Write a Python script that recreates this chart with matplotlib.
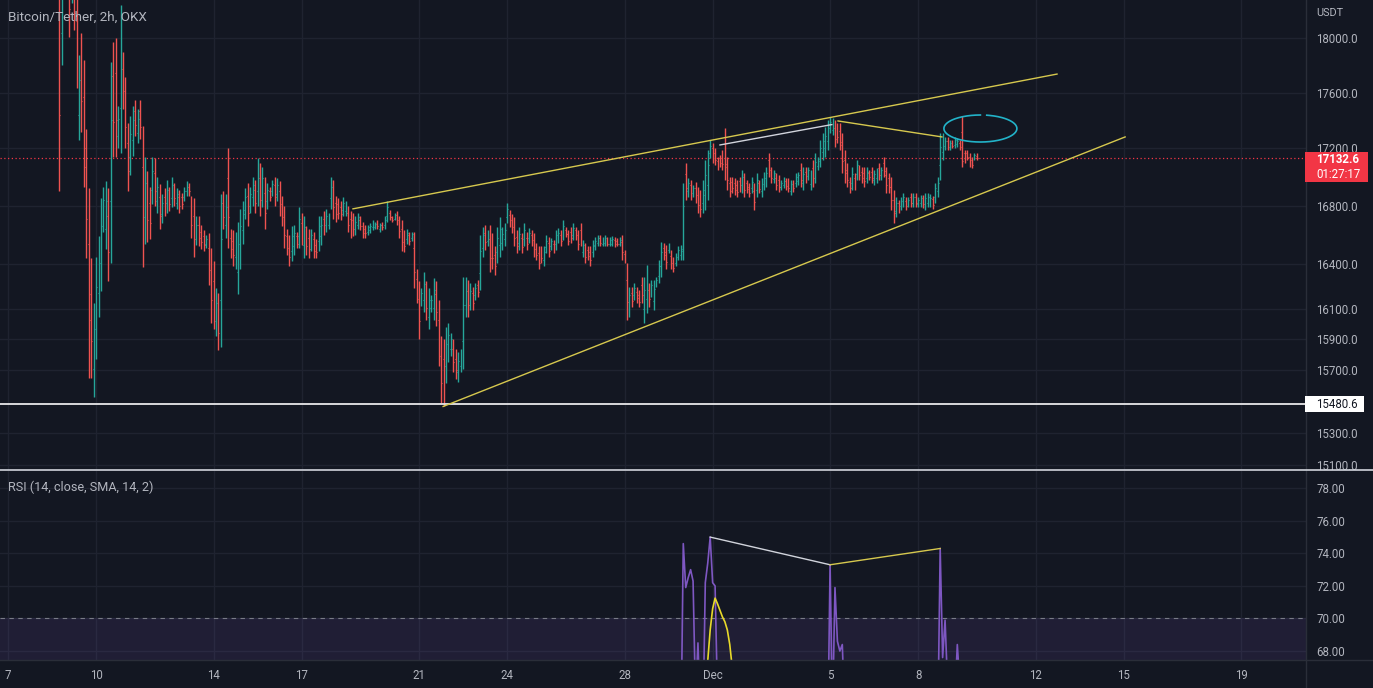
import numpy as np
import matplotlib
matplotlib.use("Agg")
import matplotlib.pyplot as plt
from matplotlib.patches import Rectangle
from matplotlib.lines import Line2D
from matplotlib.ticker import NullLocator, NullFormatter

plt.rcParams['font.family'] = ['Roboto', 'DejaVu Sans']

# ---------------- data ----------------
title = "Bitcoin/Tether, 2h, OKX"
currency = "USDT"
rsi_title = "RSI (14, close, SMA, 14, 2)"
first_bar_day = 1.75          # days since Nov 7 00:00 (first bar: Nov 8 18:00)
bar_hours = 2

opens = [
    18160, 18040, 18550, 18720, 18490, 18360, 18370, 18130, 17440, 17820,
    17570, 17070, 16540, 16200, 15710, 15970, 16210, 16410, 16710, 16640,
    16730, 16830, 17720, 17740, 17290, 17490, 17770, 17560, 17240, 17140,
    17260, 17470, 17310, 17470, 17070, 16720, 16890, 16820, 16910, 17030,
    16830, 16860, 16740, 16860, 16820, 16880, 16850, 16910, 16820, 16860,
    16860, 16860, 16900, 16930, 16780, 16730, 16590, 16670, 16620, 16590,
    16540, 16510, 16360, 16290, 16020, 16100, 16160, 16820, 16670, 16990,
    16580, 16560, 16450, 16350, 16490, 16630, 16770, 16870, 16800, 16860,
    16910, 16900, 16990, 16870, 16890, 16830, 16900, 16900, 16940, 16880,
    16900, 16810, 16710, 16590, 16540, 16490, 16520, 16590, 16590, 16680,
    16530, 16600, 16580, 16530, 16570, 16530, 16560, 16590, 16710, 16670,
    16670, 16850, 16900, 16820, 16810, 16790, 16770, 16760, 16750, 16710,
    16700, 16640, 16670, 16700, 16660, 16640, 16620, 16630, 16650, 16655,
    16680, 16640, 16670, 16665, 16730, 16750, 16720, 16710, 16735, 16690,
    16640, 16590, 16570, 16595, 16575, 16510, 16300, 16170, 16155, 16160,
    16210, 16050, 16110, 16110, 16200, 16030, 15790, 15770,
    15730, 15830, 15840, 15840, 15775, 15685, 15730, 15890, 16130, 16220,
    16150, 16205, 16195, 16260, 16340, 16510, 16615, 16555, 16570, 16540,
    16465, 16485, 16530, 16545, 16570, 16720, 16735, 16700, 16665, 16585,
    16545, 16575, 16570, 16580, 16575, 16600, 16565, 16510, 16475, 16485,
    16425, 16515, 16545, 16520, 16540, 16535, 16575, 16600, 16605, 16635,
    16605, 16620, 16600, 16630, 16595, 16630, 16485, 16505, 16495, 16480,
    16485, 16520, 16545, 16575, 16540, 16545, 16565, 16540, 16540, 16565,
    16560, 16540, 16550, 16470, 16295, 16110, 16210, 16195, 16215, 16195,
    16260, 16100, 16170, 16225, 16215, 16155, 16270, 16320, 16385, 16510,
    16480, 16495, 16455, 16420, 16410, 16455, 16460, 16490,
    17020, 16900, 16940, 16885, 16920, 16875, 16855, 16820, 16875, 16945,
    17170, 17200, 17170, 17115, 17130, 17150, 17235, 17070, 16960, 16965,
    16960, 16945, 16970, 16940, 16980, 16955, 16930, 16925, 16905, 16910,
    16955, 16900, 16950, 16970, 17120, 17035, 16985, 16995, 16980, 16930,
    16945, 16970, 16965, 16905, 16955, 16960, 16970, 17050, 16960, 17035,
    17005, 16950, 17065, 17020, 17075, 17125, 17175, 17205, 17255, 17345,
    17330, 17345, 17340, 17325, 17225, 17120, 17050, 16965, 16960, 16995,
    17020, 17055, 17035, 17030, 16995, 17030, 17035, 16975, 16990, 17065,
    17005, 17100, 17015, 16990, 16930, 16840, 16760, 16815, 16795, 16820,
    16835, 16810, 16860, 16820, 16860, 16810, 16815, 16850, 16805, 16820,
    16815, 16845, 16860, 16900, 17080, 17175, 17215, 17255, 17210, 17245,
    17225, 17230, 17240, 17320, 17165, 17170, 17140, 17120, 17130, 17150,
]
highs = [
    18700, 18600, 19000, 18900, 18700, 18600, 18500, 18350, 17875, 18040,
    17840, 17340, 16920, 16440, 16140, 16450, 16590, 16850, 16930, 16970,
    16920, 17820, 17970, 18000, 17500, 18250, 17900, 17710, 17380, 17430,
    17500, 17550, 17480, 17550, 17360, 17140, 17040, 16930, 17140, 17130,
    17000, 16950, 16880, 16920, 16980, 16930, 17000, 16960, 16920, 16910,
    16890, 16930, 16970, 16960, 16870, 16850, 16730, 16730, 16670, 16630,
    16600, 16610, 16510, 16420, 16240, 16210, 16880, 16900, 16880, 17200,
    16640, 16630, 16620, 16690, 16780, 16830, 16920, 16960, 16930, 17000,
    16980, 17130, 17100, 17070, 17000, 16960, 16930, 16980, 17000, 16990,
    16970, 16870, 16800, 16640, 16600, 16660, 16670, 16620, 16790, 16750,
    16730, 16660, 16640, 16640, 16620, 16570, 16730, 16730, 16760, 16780,
    16750, 17000, 16980, 16870, 16850, 16830, 16860, 16830, 16800, 16760,
    16750, 16730, 16750, 16730, 16690, 16670, 16670, 16680, 16700, 16690,
    16700, 16680, 16690, 16730, 16830, 16770, 16730, 16750, 16760, 16730,
    16700, 16630, 16640, 16620, 16620, 16620, 16370, 16290, 16240, 16350,
    16290, 16240, 16190, 16310, 16290, 16160, 15920, 15900,
    15980, 16010, 15945, 15900, 15835, 15820, 15835, 16315, 16315, 16295,
    16275, 16250, 16275, 16295, 16600, 16655, 16670, 16635, 16670, 16615,
    16520, 16655, 16725, 16655, 16680, 16820, 16770, 16740, 16725, 16635,
    16655, 16615, 16680, 16620, 16645, 16635, 16615, 16545, 16520, 16520,
    16520, 16600, 16585, 16580, 16565, 16635, 16645, 16635, 16700, 16655,
    16635, 16655, 16680, 16655, 16635, 16680, 16565, 16545, 16520, 16520,
    16565, 16585, 16600, 16600, 16585, 16600, 16585, 16585, 16590, 16585,
    16580, 16585, 16600, 16495, 16410, 16250, 16250, 16275, 16250, 16230,
    16315, 16315, 16395, 16275, 16295, 16295, 16315, 16430, 16550, 16545,
    16530, 16545, 16495, 16450, 16475, 16520, 16530, 16960,
    17100, 16995, 16980, 16945, 16965, 16930, 16910, 16980, 17120, 17190,
    17260, 17240, 17205, 17140, 17155, 17190, 17345, 17140, 17000, 17000,
    16995, 16980, 17000, 17050, 17030, 16980, 16960, 17000, 16960, 17030,
    16980, 16995, 17035, 17070, 17170, 17070, 17050, 17030, 17015, 16980,
    17000, 16995, 16995, 16980, 16980, 17030, 17035, 17100, 17070, 17070,
    17070, 17050, 17120, 17170, 17140, 17260, 17310, 17355, 17405, 17425,
    17420, 17405, 17380, 17380, 17310, 17190, 17100, 17000, 17070, 17030,
    17120, 17085, 17070, 17070, 17070, 17050, 17070, 17050, 17065, 17100,
    17070, 17140, 17070, 17030, 17000, 16910, 16860, 16840, 16860, 16890,
    16860, 16860, 16890, 16890, 16890, 16860, 16875, 16875, 16890, 16890,
    16880, 16870, 16960, 17000, 17310, 17310, 17280, 17280, 17260, 17260,
    17280, 17275, 17260, 17430, 17190, 17190, 17170, 17140, 17170, 17165,
]
lows = [
    16900, 17800, 18350, 18300, 18010, 18260, 18060, 17630, 17260, 17320,
    16930, 16440, 15650, 15650, 15530, 15770, 16050, 16220, 16620, 16500,
    16290, 16410, 17140, 17140, 17200, 17170, 17480, 17200, 16900, 17010,
    17150, 17290, 17240, 17270, 16380, 16540, 16550, 16570, 16810, 16800,
    16750, 16640, 16680, 16730, 16750, 16760, 16790, 16800, 16780, 16750,
    16780, 16830, 16870, 16870, 16580, 16450, 16530, 16520, 16500, 16490,
    16510, 16260, 16010, 15970, 15920, 15830, 15850, 16640, 16580, 16510,
    16440, 16390, 16370, 16200, 16370, 16540, 16710, 16660, 16750, 16800,
    16750, 16800, 16730, 16790, 16640, 16780, 16830, 16870, 16800, 16830,
    16730, 16660, 16510, 16460, 16390, 16420, 16460, 16510, 16510, 16530,
    16440, 16460, 16440, 16490, 16440, 16440, 16490, 16530, 16600, 16620,
    16640, 16780, 16710, 16690, 16710, 16700, 16730, 16730, 16620, 16580,
    16590, 16600, 16640, 16630, 16580, 16580, 16600, 16610, 16630, 16640,
    16640, 16620, 16630, 16640, 16690, 16700, 16690, 16700, 16670, 16580,
    16490, 16480, 16540, 16530, 16560, 16240, 16140, 15900, 16120, 16080,
    16030, 15970, 16080, 16030, 15990, 15730, 15490, 15470,
    15620, 15750, 15790, 15685, 15640, 15625, 15685, 15705, 16050, 16050,
    16095, 16095, 16160, 16180, 16230, 16450, 16495, 16520, 16345, 16365,
    16330, 16410, 16450, 16495, 16520, 16680, 16655, 16615, 16520, 16475,
    16495, 16475, 16520, 16495, 16545, 16520, 16450, 16430, 16365, 16410,
    16385, 16475, 16450, 16495, 16475, 16495, 16545, 16520, 16565, 16585,
    16530, 16545, 16565, 16565, 16495, 16520, 16450, 16410, 16430, 16385,
    16450, 16495, 16520, 16520, 16520, 16520, 16520, 16520, 16520, 16515,
    16520, 16520, 16430, 16410, 16030, 16050, 16115, 16160, 16140, 16115,
    16140, 16010, 16075, 16115, 16180, 16095, 16250, 16275, 16315, 16430,
    16365, 16475, 16365, 16345, 16385, 16430, 16430, 16430,
    16840, 16860, 16840, 16860, 16820, 16750, 16725, 16750, 16770, 16840,
    17135, 17100, 17085, 17050, 17070, 17050, 16980, 16910, 16860, 16890,
    16875, 16860, 16895, 16890, 16860, 16890, 16860, 16890, 16770, 16860,
    16890, 16860, 16910, 16930, 17000, 16960, 16960, 16910, 16895, 16910,
    16925, 16910, 16895, 16875, 16895, 16930, 16945, 16930, 16910, 16960,
    16980, 16910, 16930, 16960, 17050, 17070, 17120, 17140, 17190, 17310,
    17295, 17210, 17240, 17190, 17030, 16960, 16930, 16890, 16910, 16910,
    16980, 16980, 16960, 16930, 16960, 16980, 16960, 16945, 16960, 16980,
    16980, 17000, 16890, 16890, 16770, 16680, 16720, 16750, 16770, 16790,
    16770, 16790, 16790, 16790, 16790, 16790, 16790, 16785, 16770, 16790,
    16790, 16780, 16820, 16860, 16980, 17120, 17190, 17190, 17190, 17205,
    17205, 17210, 17190, 17070, 17100, 17120, 17070, 17060, 17120, 17120,
]
closes = [
    17440, 18360, 18800, 18480, 18220, 18500, 18190, 17850, 17690, 17540,
    17200, 16710, 16030, 15890, 15960, 16250, 16430, 16660, 16840, 16830,
    16480, 17400, 17390, 17400, 17410, 17930, 17610, 17350, 17040, 17300,
    17400, 17370, 17410, 17350, 16670, 16960, 16700, 16680, 17040, 16900,
    16930, 16730, 16820, 16790, 16910, 16810, 16940, 16850, 16880, 16800,
    16810, 16900, 16940, 16900, 16670, 16570, 16670, 16580, 16550, 16530,
    16570, 16370, 16160, 16110, 16140, 15940, 16570, 16720, 16790, 16720,
    16500, 16460, 16550, 16540, 16660, 16740, 16860, 16750, 16880, 16940,
    16820, 17030, 16840, 16990, 16750, 16910, 16860, 16950, 16860, 16940,
    16800, 16720, 16600, 16510, 16450, 16590, 16610, 16540, 16710, 16600,
    16650, 16520, 16500, 16600, 16490, 16480, 16660, 16670, 16650, 16730,
    16720, 16930, 16790, 16740, 16750, 16740, 16820, 16800, 16670, 16630,
    16640, 16690, 16720, 16660, 16610, 16610, 16650, 16660, 16680, 16675,
    16660, 16665, 16650, 16700, 16790, 16720, 16700, 16735, 16700, 16625,
    16550, 16525, 16610, 16560, 16605, 16350, 16210, 16020, 16205, 16270,
    16110, 16160, 16160, 16230, 16080, 15860, 15620, 15600,
    15870, 15930, 15900, 15750, 15700, 15760, 15790, 16130, 16235, 16125,
    16220, 16140, 16240, 16215, 16490, 16595, 16550, 16600, 16445, 16440,
    16385, 16580, 16640, 16605, 16630, 16780, 16690, 16650, 16580, 16525,
    16605, 16515, 16630, 16535, 16615, 16555, 16500, 16465, 16410, 16445,
    16480, 16560, 16490, 16555, 16500, 16595, 16615, 16555, 16660, 16605,
    16560, 16580, 16645, 16590, 16535, 16570, 16530, 16450, 16455, 16425,
    16530, 16560, 16575, 16545, 16565, 16575, 16540, 16565, 16570, 16535,
    16540, 16565, 16480, 16435, 16145, 16190, 16155, 16240, 16175, 16150,
    16195, 16225, 16300, 16165, 16260, 16235, 16295, 16385, 16480, 16465,
    16415, 16525, 16405, 16375, 16450, 16495, 16500, 16800,
    16920, 16955, 16880, 16920, 16865, 16805, 16780, 16910, 17015, 17085,
    17220, 17140, 17120, 17075, 17095, 17090, 17090, 16980, 16900, 16925,
    16910, 16895, 16925, 17000, 16910, 16915, 16890, 16965, 16825, 16980,
    16915, 16955, 16995, 17030, 17050, 16995, 17025, 16945, 16930, 16960,
    16980, 16935, 16925, 16950, 16920, 17000, 17010, 16980, 17020, 16995,
    17045, 17010, 16990, 17105, 17115, 17205, 17255, 17290, 17340, 17390,
    17380, 17270, 17280, 17245, 17115, 17030, 16980, 16925, 17020, 16945,
    17080, 17010, 16995, 16970, 17035, 17000, 16995, 17020, 17035, 17015,
    17045, 17040, 16945, 16930, 16840, 16750, 16820, 16775, 16835, 16860,
    16795, 16840, 16820, 16860, 16820, 16840, 16850, 16810, 16855, 16860,
    16855, 16805, 16920, 16960, 17210, 17255, 17255, 17215, 17240, 17220,
    17260, 17255, 17210, 17110, 17125, 17140, 17100, 17085, 17155, 17132.6,
]

# RSI(14) values on the visible (above ~67) stretches, by bar index
rsi_a_start = 254
rsi_a = [62, 74.6, 71.9, 72.5, 73.0, 72.3, 65, 68.5, 64, 63, 72.2, 73.4, 75.0, 72.2, 72.0, 65, 62]
rsi_b_start = 314
rsi_b = [62, 73.3, 64, 71.9, 68.6, 68.0, 68.4, 64, 62]
rsi_c_start = 358
rsi_c = [62, 63, 74.3, 67.6, 69.9, 66, 64, 63, 65, 68.4, 66, 62]
rsi_sma_start = 264
rsi_sma = [66.5, 67.4, 69.3, 70.6, 71.25, 70.9, 70.5, 70.1, 69.8, 69.3, 68.4, 67.0, 66.0]

date_tick_days = [0, 3, 7, 10, 14, 17, 21, 24, 28, 31, 35, 38, 42]
date_tick_labels = ['7', '10', '14', '17', '21', '24', '28', 'Dec', '5', '8', '12', '15', '19']
price_ticks = [15100, 15300, 15700, 15900, 16100, 16400, 16800, 17200, 17600, 18000]
rsi_ticks = [68, 70, 72, 74, 76, 78]

last_price = 17132.6
countdown = "01:27:17"
support_level = 15480.6

# drawings (day, price) endpoints
upper_trend_days = [11.75, 35.73]
upper_trend_prices = [16778, 17735]
lower_trend_days = [14.82, 38.05]
lower_trend_prices = [15467, 17282]
white_trend_days = [24.25, 28.06]
white_trend_prices = [17225, 17370]
yellow_trend_days = [28.27, 31.81]
yellow_trend_prices = [17396, 17282]
ellipse_center = (33.12, 17342)
ellipse_semi_days = 1.243
ellipse_semi_ln = 0.00556
rsi_white_bars = [266, 315]
rsi_white_vals = [75.0, 73.3]
rsi_yellow_bars = [315, 360]
rsi_yellow_vals = [73.3, 74.3]

# ---------------- style ----------------
BG = '#131722'
GRID = '#1f2330'
TXT = '#b2b5be'
UP = '#26a69a'
DN = '#ef5350'
W, H = 1373, 688
FS = 8.3

opens = np.array(opens, float); highs = np.array(highs, float)
lows = np.array(lows, float); closes = np.array(closes, float)
n = len(closes)
bar_days = first_bar_day + np.arange(n) * bar_hours / 24.0
cols = np.where(closes >= opens, UP, DN)

fig = plt.figure(figsize=(W / 100, H / 100), dpi=100)
fig.patch.set_facecolor(BG)
pw = 1306 / W
ax = fig.add_axes([0, 1 - 469.5 / H, pw, 469.5 / H])
ax2 = fig.add_axes([0, 28 / H, pw, (660 - 471) / H], sharex=ax)

for a in (ax, ax2):
    a.set_facecolor(BG)
    for s in a.spines.values():
        s.set_visible(False)
    a.set_xticks(date_tick_days)
    a.grid(True, color=GRID, lw=1.0, zorder=0)
    a.set_axisbelow(True)
    a.yaxis.tick_right()
    a.tick_params(axis='y', length=0, pad=7.5, labelsize=FS, labelcolor=TXT)
    a.tick_params(axis='x', length=0)

ax.set_xlim(-0.2725, 44.21)
ax.set_yscale('log')
ax.set_ylim(15071, 18284)
ax.yaxis.set_minor_locator(NullLocator())
ax.yaxis.set_minor_formatter(NullFormatter())
ax.set_yticks(price_ticks, labels=[f"{v:.1f}" for v in price_ticks])
ax.tick_params(axis='x', labelbottom=False)

# OHLC bars
tick = 0.35 / 12
ax.vlines(bar_days, lows, highs, colors=cols, lw=1.0, zorder=3)
ax.hlines(opens, bar_days - tick, bar_days, colors=cols, lw=0.8, zorder=3)
ax.hlines(closes, bar_days, bar_days + tick, colors=cols, lw=0.8, zorder=3)

# lines on price pane
ax.axhline(last_price, color='#f23645', lw=0.9, ls=(0, (1, 2)), zorder=2)
ax.axhline(support_level, color='#e8e8ea', lw=1.3, zorder=4)
tc = '#d6c84e'
ax.plot(upper_trend_days, upper_trend_prices, color=tc, lw=1.0, zorder=5)
ax.plot(lower_trend_days, lower_trend_prices, color=tc, lw=1.0, zorder=5)
ax.plot(yellow_trend_days, yellow_trend_prices, color=tc, lw=1.0, zorder=5)
ax.plot(white_trend_days, white_trend_prices, color='#d1d4dc', lw=1.0, zorder=5)
th = np.deg2rad(np.linspace(90, 440, 240))
ax.plot(ellipse_center[0] + ellipse_semi_days * np.cos(th),
        ellipse_center[1] * np.exp(ellipse_semi_ln * np.sin(th)),
        color='#22b3c9', lw=1.2, zorder=5)

# RSI pane
ax2.set_ylim(67.45, 79.06)
ax2.set_yticks(rsi_ticks, labels=[f"{v:.2f}" for v in rsi_ticks])
ax2.set_xticks(date_tick_days, labels=date_tick_labels)
ax2.tick_params(axis='x', pad=6.5, labelsize=FS, labelcolor=TXT)
ax2.axhspan(30, 70, color='#7e57c2', alpha=0.12, lw=0, zorder=1)
ax2.axhline(70, color='#787b86', lw=0.8, ls=(0, (4, 4)), zorder=2)
for st, vals in ((rsi_a_start, rsi_a), (rsi_b_start, rsi_b), (rsi_c_start, rsi_c)):
    ax2.plot(bar_days[st:st + len(vals)], vals, color='#7e57c2', lw=1.2, zorder=4)
ax2.plot(bar_days[rsi_sma_start:rsi_sma_start + len(rsi_sma)], rsi_sma,
         color='#e8d92a', lw=1.2, zorder=4)
ax2.plot(bar_days[rsi_white_bars], rsi_white_vals, color='#d1d4dc', lw=1.0, zorder=5)
ax2.plot(bar_days[rsi_yellow_bars], rsi_yellow_vals, color=tc, lw=1.0, zorder=5)

# separators
fig.add_artist(Line2D([pw, pw], [0, 1], color='#2a2e39', lw=1.0, transform=fig.transFigure))
fig.add_artist(Line2D([0, 1], [1 - 469.5 / H] * 2, color='#d1d4dc', lw=1.2, transform=fig.transFigure))
fig.add_artist(Line2D([0, 1], [28 / H] * 2, color='#2a2e39', lw=1.0, transform=fig.transFigure))

# texts
fig.text(8 / W, 1 - 17 / H, title, color=TXT, fontsize=9.7, va='center', ha='left')
fig.text(8 / W, 1 - 487 / H, rsi_title, color=TXT, fontsize=9.1, va='center', ha='left')
fig.text(1316 / W, 1 - 13 / H, currency, color=TXT, fontsize=FS - 0.5, va='center', ha='left')

# price labels on the axis
fy = ax.transData.transform((0, last_price))[1] / H
fig.add_artist(Rectangle((1305 / W, fy - 24 / H), 63 / W, 30 / H, transform=fig.transFigure,
                         facecolor='#f23645', edgecolor='none', zorder=10))
fig.text(1316 / W, fy - 1 / H, f"{last_price:.1f}", color='white', fontsize=FS,
         fontweight='bold', va='center', ha='left', zorder=11)
fig.text(1316 / W, fy - 16 / H, countdown, color='white', fontsize=FS,
         va='center', ha='left', zorder=11)
fs_ = ax.transData.transform((0, support_level))[1] / H
fig.add_artist(Rectangle((1305 / W, fs_ - 8 / H), 59 / W, 16 / H, transform=fig.transFigure,
                         facecolor='white', edgecolor='none', zorder=10))
fig.text(1316 / W, fs_, f"{support_level:.1f}", color='#131722', fontsize=FS,
         va='center', ha='left', zorder=11)

fig.savefig('out.png', dpi=100, facecolor=BG)
